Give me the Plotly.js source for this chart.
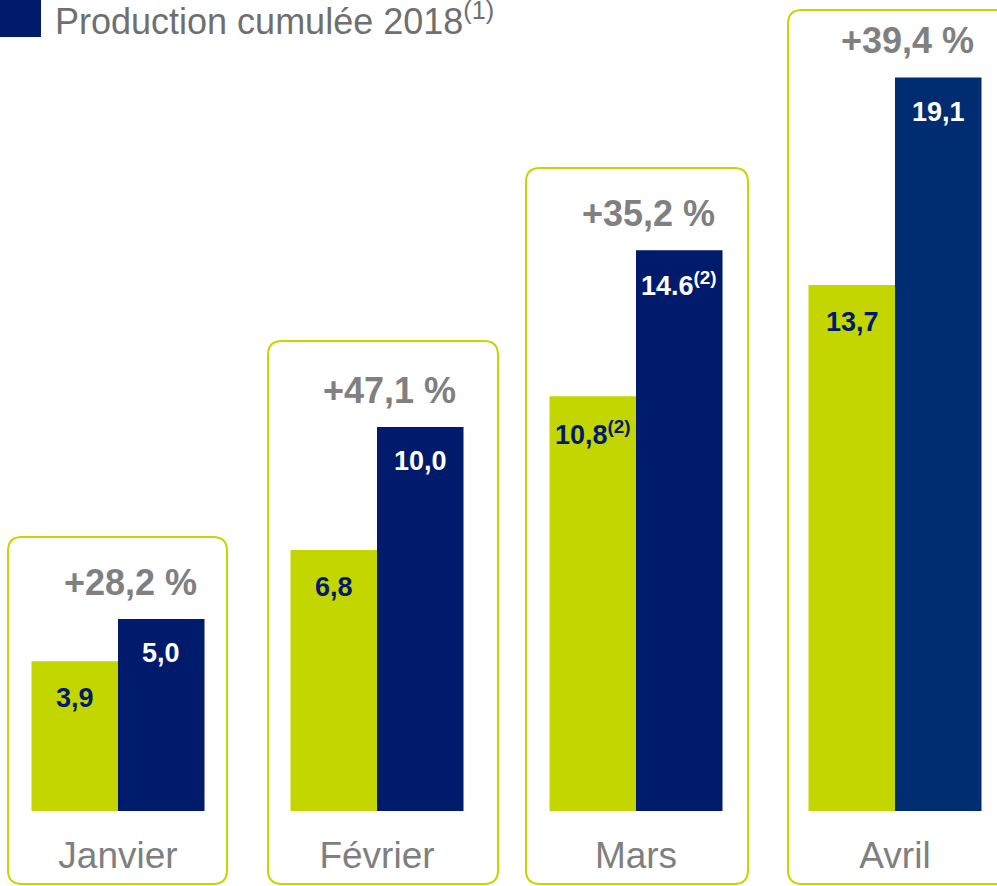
<!DOCTYPE html>
<html><head><meta charset="utf-8">
<script src="https://cdn.plot.ly/plotly-3.0.1.min.js"></script>
<style>html,body{margin:0;padding:0;background:#fff}#chart{width:997px;height:886px}</style>
</head><body><div id="chart"></div>
<script>
// ---- data ----
const months = ['Janvier', 'Février', 'Mars', 'Avril'];
const prod2017 = [3.9, 6.8, 10.8, 13.7];
const prod2018 = [5.0, 10.0, 14.6, 19.1];
const labels2017 = ['3,9', '6,8', '10,8<sup>(2)</sup>', '13,7'];
const labels2018 = ['5,0', '10,0', '14.6<sup>(2)</sup>', '19,1'];
const growth = ['+28,2 %', '+47,1 %', '+35,2 %', '+39,4 %'];
const legendText = 'Production cumulée 2018<sup>(1)</sup>';

// ---- styling ----
const GREEN = '#C4D600';
const NAVY = '#001A6C';
const NAVY2 = '#002D72';
const GREY = '#808080';
const FONT = 'Liberation Sans, Arial, sans-serif';
const W = 997, H = 886, BOTTOM = 75, PH = H - BOTTOM;
const pxX = x => x / W;
const pxY = y => (PH - y) / PH;

function roundRect(x0, y0, x1, y1, r) {
  const X = v => pxX(v).toFixed(5), Y = v => pxY(v).toFixed(5);
  return `M${X(x0 + r)},${Y(y0)} L${X(x1 - r)},${Y(y0)} Q${X(x1)},${Y(y0)} ${X(x1)},${Y(y0 + r)} ` +
    `L${X(x1)},${Y(y1 - r)} Q${X(x1)},${Y(y1)} ${X(x1 - r)},${Y(y1)} L${X(x0 + r)},${Y(y1)} ` +
    `Q${X(x0)},${Y(y1)} ${X(x0)},${Y(y1 - r)} L${X(x0)},${Y(y0 + r)} Q${X(x0)},${Y(y0)} ${X(x0 + r)},${Y(y0)} Z`;
}
const boxes = [[8, 537, 227, 884], [268, 341, 498, 884], [526, 168, 748, 884], [788, 10, 1010, 884]];

const traces = [
  { type: 'bar', x: months, y: prod2017, name: 'Production cumulée 2017',
    marker: { color: GREEN }, showlegend: false, hoverinfo: 'skip' },
  { type: 'bar', x: months, y: prod2018, name: 'Production cumulée 2018',
    marker: { color: months.map((m, i) => i === months.length - 1 ? NAVY2 : NAVY) },
    showlegend: false, hoverinfo: 'skip' }
];

const annotations = [];
months.forEach((m, i) => {
  annotations.push({ x: m, y: prod2017[i], xref: 'x', yref: 'y', text: '<b>' + labels2017[i] + '</b>',
    showarrow: false, xshift: -43, yshift: -37, font: { family: FONT, size: 27, color: NAVY } });
  annotations.push({ x: m, y: prod2018[i], xref: 'x', yref: 'y', text: '<b>' + labels2018[i] + '</b>',
    showarrow: false, xshift: 43, yshift: -34, font: { family: FONT, size: 27, color: '#ffffff' } });
  annotations.push({ x: m, y: prod2018[i], xref: 'x', yref: 'y', text: '<b>' + growth[i] + '</b>',
    showarrow: false, xshift: 12, yshift: 37, font: { family: FONT, size: 36, color: GREY } });
});
annotations.push({ x: pxX(53), y: pxY(19), xref: 'paper', yref: 'paper', xanchor: 'left', yanchor: 'middle',
  text: legendText, showarrow: false, font: { family: FONT, size: 36, color: '#6f6f6f' } });

const shapes = boxes.map(b => ({ type: 'path', xref: 'paper', yref: 'paper', path: roundRect(b[0], b[1], b[2], b[3], 14),
  line: { color: GREEN, width: 2 }, fillcolor: 'rgba(0,0,0,0)', layer: 'below' }));
shapes.push({ type: 'rect', xref: 'paper', yref: 'paper', x0: pxX(0), x1: pxX(41), y0: pxY(37), y1: pxY(0),
  fillcolor: NAVY, line: { width: 0 } });

const pxPerCat = 259, firstCenter = 118;
const layout = {
  width: W, height: H,
  margin: { l: 0, r: 0, t: 0, b: BOTTOM, pad: 0 },
  paper_bgcolor: '#ffffff', plot_bgcolor: 'rgba(0,0,0,0)',
  barmode: 'group', bargap: 0.332, bargroupgap: 0,
  xaxis: { type: 'category', range: [-firstCenter / pxPerCat, (W - firstCenter) / pxPerCat],
    showgrid: false, zeroline: false, showline: false, ticks: '',
    ticklabelstandoff: 19, tickfont: { family: FONT, size: 37, color: '#7F7F7F' } },
  yaxis: { range: [0, PH / 38.4], visible: false, showgrid: false, zeroline: false },
  showlegend: false,
  annotations: annotations,
  shapes: shapes
};
Plotly.newPlot('chart', traces, layout, { staticPlot: true, displayModeBar: false });
</script></body></html>
